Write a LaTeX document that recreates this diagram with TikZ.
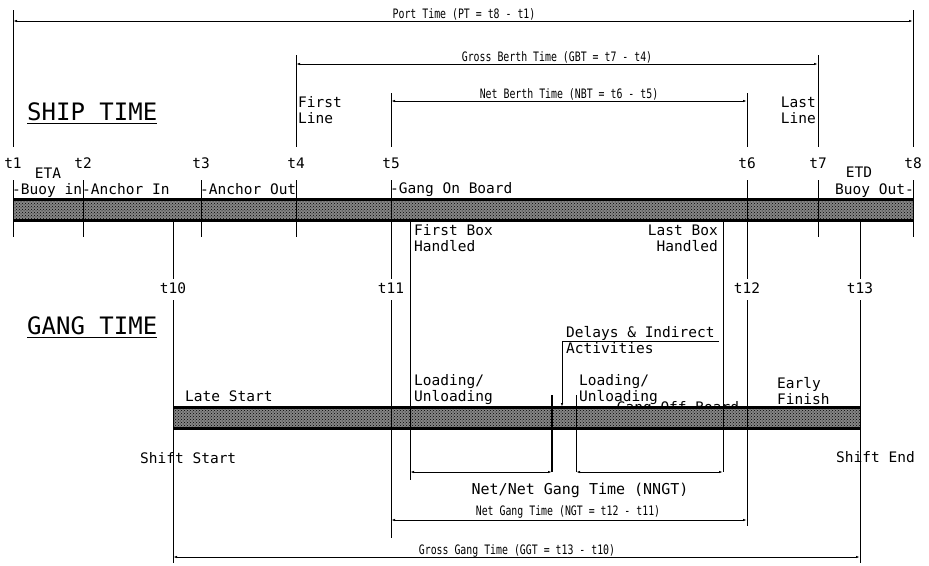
\documentclass[tikz,border=0pt]{standalone}
\usepackage{fontspec}
\usepackage{tikz}
\usetikzlibrary{arrows.meta,patterns,calc}
\newfontfamily\plotfont{DejaVu Sans Mono}
\newfontfamily\narrowfont[FakeStretch=0.76]{DejaVu Sans Mono}

\begin{document}
\begin{tikzpicture}[
  x=1pt, y=-1pt,
  lbl/.style={
    font=\plotfont\fontsize{14.5}{16}\selectfont,
    inner sep=0pt
  },
  dimlbl/.style={
    font=\narrowfont\fontsize{13}{15}\selectfont,
    inner sep=0pt,
    anchor=base
  },
  heading/.style={
    font=\plotfont\fontsize{24}{26}\selectfont,
    inner xsep=0pt,
    inner ysep=3pt,
    anchor=base west
  },
  tick/.style={line width=0.8pt},
  dim/.style={{Latex[length=4pt,width=2.4pt]}-{Latex[length=4pt,width=2.4pt]},line width=0.8pt},
  bar/.style={fill=black!48,postaction={pattern=crosshatch dots}},
  barline/.style={line width=3pt}
]
\useasboundingbox (0,0) rectangle (929,565);
\coordinate (e1) at (13,0);
\coordinate (e2) at (83,0);
\coordinate (e3) at (201,0);
\coordinate (e4) at (296,0);
\coordinate (e5) at (391,0);
\coordinate (e6) at (747,0);
\coordinate (e7) at (818,0);
\coordinate (e8) at (913,0);
\coordinate (e10) at (173,0);
\coordinate (e11) at (391,0);
\coordinate (e12) at (747,0);
\coordinate (e13) at (860,0);
\coordinate (fb) at (410,0);
\coordinate (lb) at (723,0);
\coordinate (d1) at (552,0);
\coordinate (d2) at (576,0);
\coordinate (da) at (562,0);
\coordinate (ptTop) at (0,10);
\coordinate (ptrow) at (0,21);
\coordinate (gbtTop) at (0,55);
\coordinate (gbtrow) at (0,64);
\coordinate (nbtTop) at (0,93);
\coordinate (nbtrow) at (0,101);
\coordinate (extBot) at (0,147);
\coordinate (tickTop) at (0,180);
\coordinate (shipTop) at (0,199);
\coordinate (shipBot) at (0,220);
\coordinate (tickBot) at (0,237);
\coordinate (gapTop) at (0,279);
\coordinate (gapBot) at (0,300);
\coordinate (delrow) at (0,341);
\coordinate (gangTop) at (0,407);
\coordinate (gangBot) at (0,428);
\coordinate (nngrow) at (0,472);
\coordinate (ngtrow) at (0,520);
\coordinate (ggtrow) at (0,557);
\coordinate (dr) at (719,341);

\node[heading] (shiptime) at (27,120) {SHIP TIME};
\node[heading] (gangtime) at (27,334) {GANG TIME};
\draw[tick] (shiptime.south west) -- (shiptime.south east);
\draw[tick] (gangtime.south west) -- (gangtime.south east);

\node[dimlbl] (pt) at (464,18) {Port Time (PT = t8 - t1)};
\node[dimlbl] (gbt) at (557,61) {Gross Berth Time (GBT = t7 - t4)};
\node[dimlbl] (nbt) at (569,98) {Net Berth Time (NBT = t6 - t5)};
\node[dimlbl] (ngt) at (568,515) {Net Gang Time (NGT = t12 - t11)};
\node[dimlbl] (ggt) at (517,554) {Gross Gang Time (GGT = t13 - t10)};
\node[lbl,anchor=base,font=\plotfont\fontsize{15}{17}\selectfont] (nngt) at (580,494) {Net/Net Gang Time (NNGT)};

\foreach \e/\r in {e1/ptTop,e8/ptTop,e4/gbtTop,e7/gbtTop,e5/nbtTop,e6/nbtTop}
  \draw[tick] (\e|-\r) -- (\e|-extBot);
\draw[dim] (e1|-ptrow) -- (e8|-ptrow);
\draw[dim] (e4|-gbtrow) -- (e7|-gbtrow);
\draw[dim] (e5|-nbtrow) -- (e6|-nbtrow);

\node[lbl,anchor=west,align=left] (firstline) at (298,110) {First\\Line};
\node[lbl,anchor=east,align=right] (lastline) at (816,110) {Last\\Line};

\foreach \e/\n in {e1/t1,e2/t2,e3/t3,e4/t4,e5/t5,e6/t6,e7/t7,e8/t8}
  \node[lbl,anchor=base] (\n) at ($(\e|-0,168)$) {\n};
\foreach \e/\n in {e10/t10,e11/t11,e12/t12,e13/t13}
  \node[lbl,anchor=base] (\n) at ($(\e|-0,293)$) {\n};

\node[lbl,anchor=base] (eta) at (48,178) {ETA};
\node[lbl,anchor=base] (etd) at (859,177) {ETD};
\node[lbl,anchor=base west] (buoyin) at (12,194) {-Buoy in};
\node[lbl,anchor=base west] (anchorin) at (82,194) {-Anchor In};
\node[lbl,anchor=base west] (anchorout) at (200,194) {-Anchor Out};
\node[lbl,anchor=base west] (gangon) at (390,193) {-Gang On Board};
\node[lbl,anchor=base east] (buoyout) at (914,194) {Buoy Out-};

\path[bar] (e1|-shipTop) rectangle (e8|-shipBot);
\draw[barline] (e1|-shipTop) -- (e8|-shipTop);
\draw[barline] (e1|-shipBot) -- (e8|-shipBot);

\node[lbl,anchor=west,align=left] (firstbox) at (414,238) {First Box\\Handled};
\node[lbl,anchor=east,align=right] (lastbox) at (718,238) {Last Box\\Handled};

\node[lbl,anchor=base west] (delays) at (566,337) {Delays \& Indirect};
\node[lbl,anchor=base west] (activities) at (566,353) {Activities};
\node[lbl,anchor=base west] (latestart) at (185,401) {Late Start};
\node[lbl,anchor=west,align=left] (loading1) at (414,390) {Loading/\\Unloading};
\node[lbl,anchor=west,align=left] (loading2) at (579,390) {Loading/\\Unloading};
\node[lbl,anchor=west,align=left] (earlyfinish) at (777,391) {Early\\Finish};
\node[lbl,anchor=base east] (gangoff) at (748,412) {Gang Off Board-};
\node[lbl,anchor=base west] (shiftstart) at (140,463) {Shift Start};
\node[lbl,anchor=base west] (shiftend) at (836,462) {Shift End};

\path[bar] (e10|-gangTop) rectangle (e13|-gangBot);
\draw[barline] (e10|-gangTop) -- (e13|-gangTop);
\draw[barline] (e10|-gangBot) -- (e13|-gangBot);

\foreach \e in {e1,e2,e3,e4,e7,e8}
  \draw[tick] (\e|-tickTop) -- (\e|-tickBot);
\draw[tick] (e5|-tickTop) -- (e5|-gapTop);
\draw[tick] (e6|-tickTop) -- (e6|-gapTop);
\draw[tick] (e10|-shipBot) -- (e10|-gapTop);
\draw[tick] (e13|-shipBot) -- (e13|-gapTop);
\draw[tick] (fb|-shipBot) -- ($(fb|-0,480)$);
\draw[tick] (lb|-shipBot) -- (lb|-nngrow);
\draw[tick] (e10|-gapBot) -- ($(e10|-0,563)$);
\draw[tick] (e11|-gapBot) -- ($(e11|-0,538)$);
\draw[tick] (e12|-gapBot) -- ($(e12|-0,526)$);
\draw[tick] (e13|-gapBot) -- ($(e13|-0,563)$);
\draw[line width=1.6pt] ($(d1|-0,395)$) -- (d1|-nngrow);
\draw[tick] ($(d2|-0,395)$) -- (d2|-nngrow);

\draw[dim] (fb|-nngrow) -- (d1|-nngrow);
\draw[dim] (d2|-nngrow) -- (lb|-nngrow);
\draw[dim] (e11|-ngtrow) -- (e12|-ngtrow);
\draw[dim] (e10|-ggtrow) -- (e13|-ggtrow);

\draw[tick] (dr) -- (da|-delrow);
\draw[tick,-{Latex[length=4pt,width=2.4pt]}] (da|-delrow) -- (da|-gangTop);
\end{tikzpicture}
\end{document}
